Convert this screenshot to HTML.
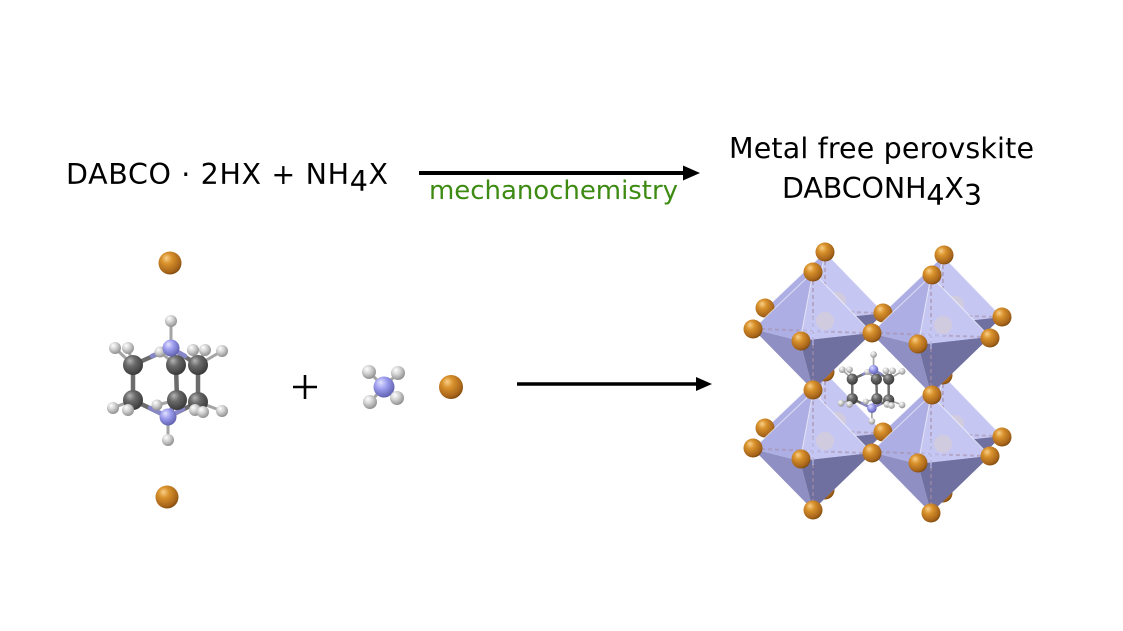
<!DOCTYPE html>
<html>
<head>
<meta charset="utf-8">
<style>
  html, body { margin: 0; padding: 0; background: #ffffff; }
  body { width: 1123px; height: 631px; overflow: hidden; }
  svg { display: block; }
  .t { font-family: "DejaVu Sans", "Liberation Sans", sans-serif; fill: #000; }
</style>
</head>
<body>
<svg width="1123" height="631" viewBox="0 0 1123 631" xmlns="http://www.w3.org/2000/svg">
  <defs>
    <radialGradient id="gO" cx="0.4" cy="0.36" r="0.66" fx="0.34" fy="0.28">
      <stop offset="0" stop-color="#f9d08a"/>
      <stop offset="0.35" stop-color="#d9922c"/>
      <stop offset="0.85" stop-color="#a6641a"/>
      <stop offset="1" stop-color="#7e4a0c"/>
    </radialGradient>
    <radialGradient id="gC" cx="0.4" cy="0.36" r="0.66" fx="0.34" fy="0.28">
      <stop offset="0" stop-color="#b4b4b4"/>
      <stop offset="0.4" stop-color="#6a6a6a"/>
      <stop offset="1" stop-color="#383838"/>
    </radialGradient>
    <radialGradient id="gH" cx="0.4" cy="0.36" r="0.66" fx="0.34" fy="0.28">
      <stop offset="0" stop-color="#ffffff"/>
      <stop offset="0.45" stop-color="#d4d4d4"/>
      <stop offset="1" stop-color="#8e8e8e"/>
    </radialGradient>
    <radialGradient id="gN" cx="0.4" cy="0.36" r="0.66" fx="0.34" fy="0.28">
      <stop offset="0" stop-color="#e2e2ff"/>
      <stop offset="0.45" stop-color="#9c9cee"/>
      <stop offset="1" stop-color="#5f5fae"/>
    </radialGradient>

    <!-- DABCO molecule -->
    <g id="dabco">
      <g stroke-linecap="round" fill="none">
        <g stroke="#6c6c6c" stroke-width="4.5">
          <path d="M133,365 L133,400 M176,365 L177,400 M198,365 L198,402"/>
          <path d="M171,348 L133,365 M171,348 L176,365 M171,348 L198,365"/>
          <path d="M168,417 L133,400 M168,417 L177,400 M168,417 L198,402"/>
        </g>
        <g stroke="#8686c8" stroke-width="4.5">
          <path d="M171,348 L152,356 M171,348 L173,356 M171,348 L185,356"/>
          <path d="M168,417 L150,408 M168,417 L172,408 M168,417 L183,409"/>
        </g>
        <g stroke="#a4a4a4" stroke-width="3">
          <path d="M171,348 L171,321 M168,417 L168,440"/>
          <path d="M133,365 L115,348 M133,365 L128,348 M176,365 L160,352 M198,365 L193,350 M198,365 L205,350 M198,365 L222,351"/>
          <path d="M133,400 L113,408 M133,400 L128,410 M177,400 L157,405 M198,402 L195,410 M198,402 L203,412 M198,402 L222,411"/>
        </g>
      </g>
      <circle cx="160" cy="352" r="5.5" fill="url(#gH)"/>
      <circle cx="157" cy="405" r="5.5" fill="url(#gH)"/>
      <circle cx="176" cy="365" r="10" fill="url(#gC)"/>
      <circle cx="177" cy="400" r="10" fill="url(#gC)"/>
      <circle cx="133" cy="365" r="10" fill="url(#gC)"/>
      <circle cx="133" cy="400" r="10" fill="url(#gC)"/>
      <circle cx="198" cy="365" r="10" fill="url(#gC)"/>
      <circle cx="198" cy="402" r="10" fill="url(#gC)"/>
      <circle cx="171" cy="348" r="8.5" fill="url(#gN)"/>
      <circle cx="168" cy="417" r="8.5" fill="url(#gN)"/>
      <circle cx="115" cy="348" r="6" fill="url(#gH)"/>
      <circle cx="128" cy="348" r="6" fill="url(#gH)"/>
      <circle cx="193" cy="350" r="6" fill="url(#gH)"/>
      <circle cx="205" cy="350" r="6" fill="url(#gH)"/>
      <circle cx="222" cy="351" r="6" fill="url(#gH)"/>
      <circle cx="113" cy="408" r="6" fill="url(#gH)"/>
      <circle cx="128" cy="410" r="6" fill="url(#gH)"/>
      <circle cx="195" cy="410" r="6" fill="url(#gH)"/>
      <circle cx="203" cy="412" r="6" fill="url(#gH)"/>
      <circle cx="222" cy="411" r="6" fill="url(#gH)"/>
      <circle cx="171" cy="321" r="6" fill="url(#gH)"/>
      <circle cx="168" cy="440" r="6" fill="url(#gH)"/>
    </g>

    <!-- octahedron faces relative to center -->
    <g id="oct">
      <polygon points="0,-59 -60,-2 -13,10" fill="#adaee3"/>
      <polygon points="0,-59 -13,10 59,2" fill="#c6c6f3"/>
      <polygon points="0,59 -60,-2 -13,10" fill="#8f8fc4"/>
      <polygon points="0,59 -13,10 59,2" fill="#6f6fa0"/>
      <circle cx="12" cy="-10" r="9" fill="#d4ccd8" opacity="0.75"/>
      <g stroke="#a48ea8" stroke-width="2" stroke-dasharray="4 3" opacity="0.55">
        <line x1="0" y1="-50" x2="0" y2="52"/>
        <line x1="-52" y1="-2" x2="52" y2="2"/>
      </g>
      <g stroke="#c8d0ff" stroke-width="1.5" opacity="0.6">
        <line x1="0" y1="-14" x2="0" y2="14"/>
        <line x1="-14" y1="0" x2="14" y2="0"/>
      </g>
      <g stroke="#ffffff" stroke-width="1" opacity="0.6" fill="none">
        <path d="M0,-59 L-60,-2 M0,-59 L-13,10 M0,-59 L59,2"/>
      </g>
    </g>
  </defs>

  <rect width="1123" height="631" fill="#ffffff"/>

  <!-- Top equation text -->
  <text class="t" x="66" y="184" font-size="28.5" textLength="322" lengthAdjust="spacing">DABCO · 2HX + NH<tspan dy="7">4</tspan><tspan dy="-7">X</tspan></text>

  <!-- top arrow -->
  <line x1="419" y1="173" x2="686" y2="173" stroke="#000" stroke-width="4"/>
  <polygon points="683,165.5 700,173 683,180.5" fill="#000"/>
  <text x="429" y="199" font-size="26" font-family="'DejaVu Sans', 'Liberation Sans', sans-serif" fill="#3d8b12" textLength="249" lengthAdjust="spacing">mechanochemistry</text>

  <text class="t" x="729" y="158" font-size="28.5" textLength="305" lengthAdjust="spacing">Metal free perovskite</text>
  <text class="t" x="782" y="198" font-size="28.5" textLength="200" lengthAdjust="spacing">DABCONH<tspan dy="7">4</tspan><tspan dy="-7">X</tspan><tspan dy="7">3</tspan></text>

  <!-- Left DABCO with Br -->
  <circle cx="170" cy="263" r="11.5" fill="url(#gO)"/>
  <circle cx="167" cy="497" r="11.5" fill="url(#gO)"/>
  <use href="#dabco"/>

  <!-- plus -->
  <line x1="293" y1="387" x2="317" y2="387" stroke="#000" stroke-width="2.6"/>
  <line x1="305" y1="375" x2="305" y2="399" stroke="#000" stroke-width="2.6"/>

  <!-- NH4 -->
  <g stroke="#a4a4a4" stroke-width="3" stroke-linecap="round">
    <line x1="384" y1="387" x2="369" y2="372"/>
    <line x1="384" y1="387" x2="398" y2="373"/>
    <line x1="384" y1="387" x2="370" y2="402"/>
    <line x1="384" y1="387" x2="397" y2="398"/>
  </g>
  <circle cx="369" cy="372" r="7" fill="url(#gH)"/>
  <circle cx="398" cy="373" r="7" fill="url(#gH)"/>
  <circle cx="384" cy="387" r="10.5" fill="url(#gN)"/>
  <circle cx="370" cy="402" r="7" fill="url(#gH)"/>
  <circle cx="397" cy="398" r="7" fill="url(#gH)"/>

  <!-- Br -->
  <circle cx="451" cy="387" r="12" fill="url(#gO)"/>

  <!-- bottom arrow -->
  <line x1="517" y1="384" x2="698" y2="384" stroke="#000" stroke-width="3.5"/>
  <polygon points="696,377 712,384 696,391" fill="#000"/>

  <!-- Perovskite: back layer -->
  <use href="#oct" transform="translate(825,311)"/>
  <use href="#oct" transform="translate(943,315)"/>
  <use href="#oct" transform="translate(825,431)"/>
  <use href="#oct" transform="translate(943,434)"/>

  <g fill="url(#gO)">
    <circle cx="825" cy="490" r="9.5"/>
    <circle cx="943" cy="493" r="9.5"/>
    <circle cx="825" cy="372" r="9.5"/>
    <circle cx="943" cy="375" r="9.5"/>
    <circle cx="825" cy="252" r="9.5"/>
    <circle cx="944" cy="255" r="9.5"/>
    <circle cx="765" cy="308" r="9.5"/>
    <circle cx="765" cy="428" r="9.5"/>
    <circle cx="883" cy="313" r="9.5"/>
    <circle cx="883" cy="432" r="9.5"/>
    <circle cx="1002" cy="317" r="9.5"/>
    <circle cx="1002" cy="437" r="9.5"/>
  </g>

  <!-- front layer -->
  <use href="#oct" transform="translate(813,331)"/>
  <use href="#oct" transform="translate(931,335)"/>
  <use href="#oct" transform="translate(813,451)"/>
  <use href="#oct" transform="translate(931,454)"/>

  <!-- central DABCO -->
  <use href="#dabco" transform="translate(873,389) scale(0.56) translate(-170,-382.5)"/>

  <g fill="url(#gO)">
    <!-- O1 -->
    <circle cx="813" cy="272" r="9.5"/>
    <circle cx="753" cy="329" r="9.5"/>
    <circle cx="801" cy="341" r="9.5"/>
    <circle cx="872" cy="333" r="9.5"/>
    <circle cx="813" cy="390" r="9.5"/>
    <!-- O2 -->
    <circle cx="932" cy="275" r="9.5"/>
    <circle cx="918" cy="344" r="9.5"/>
    <circle cx="990" cy="338" r="9.5"/>
    <circle cx="932" cy="395" r="9.5"/>
    <!-- O3 -->
    <circle cx="753" cy="448" r="9.5"/>
    <circle cx="801" cy="459" r="9.5"/>
    <circle cx="872" cy="453" r="9.5"/>
    <circle cx="813" cy="510" r="9.5"/>
    <!-- O4 -->
    <circle cx="918" cy="463" r="9.5"/>
    <circle cx="990" cy="456" r="9.5"/>
    <circle cx="931" cy="513" r="9.5"/>
  </g>
</svg>
</body>
</html>
